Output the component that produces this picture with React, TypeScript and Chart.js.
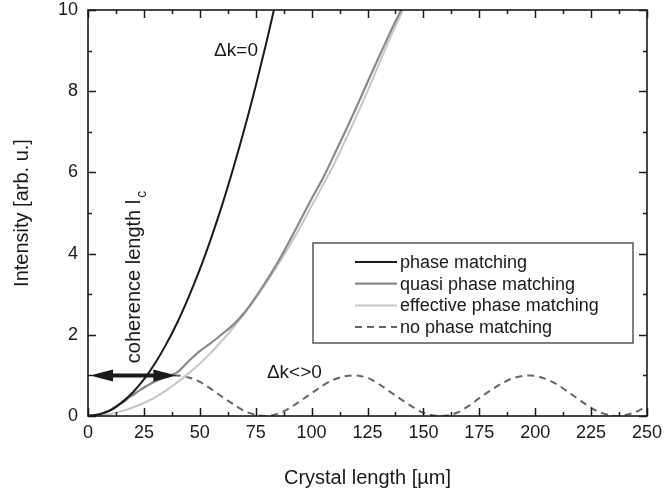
import { useEffect, useRef } from "react";
import { Chart, registerables } from "chart.js";

Chart.register(...registerables);

const FONT = "'Liberation Sans', Arial, Helvetica, sans-serif";
const INK = "#1a1a1a";

// Crystal length [µm] and intensity [arb. u.] for each regime
const phaseX = [0, 5, 10, 15, 20, 25, 30, 35, 40, 45, 50, 55, 60, 65, 70, 75, 80, 85];
const phaseY = [0, 0.04, 0.14, 0.33, 0.58, 0.9, 1.3, 1.77, 2.31, 2.93, 3.61, 4.37, 5.2, 6.11, 7.08, 8.13, 9.25, 10.45];

const quasiX = [0, 5, 10, 15, 20, 25, 30, 35, 40, 45, 50, 55, 60, 65, 70, 75, 80, 85, 90, 95, 100, 105, 110, 115, 120, 125, 130, 135, 140, 145];
const quasiY = [0, 0.04, 0.15, 0.32, 0.52, 0.7, 0.85, 0.96, 1.08, 1.35, 1.6, 1.8, 2.02, 2.25, 2.55, 2.93, 3.35, 3.8, 4.3, 4.82, 5.35, 5.85, 6.42, 7.0, 7.6, 8.22, 8.83, 9.43, 10.0, 10.6];

const effectiveX = [0, 5, 10, 15, 20, 25, 30, 35, 40, 45, 50, 55, 60, 65, 70, 75, 80, 85, 90, 95, 100, 105, 110, 115, 120, 125, 130, 135, 140, 145];
const effectiveY = [0, 0.01, 0.05, 0.12, 0.21, 0.32, 0.46, 0.63, 0.83, 1.05, 1.29, 1.56, 1.86, 2.18, 2.53, 2.9, 3.3, 3.73, 4.18, 4.66, 5.17, 5.68, 6.2, 6.78, 7.38, 8.0, 8.65, 9.3, 9.9, 10.6];

const noMatchX = [0, 5, 10, 15, 20, 25, 30, 35, 39.5, 45, 50, 55, 60, 65, 70, 75, 79, 85, 90, 95, 100, 105, 110, 115, 118.5, 125, 130, 135, 140, 145, 150, 155, 158, 165, 170, 175, 180, 185, 190, 195, 197.5, 205, 210, 215, 220, 225, 230, 237, 245, 250];
const noMatchY = [0, 0.04, 0.15, 0.31, 0.51, 0.7, 0.86, 0.96, 1, 0.95, 0.84, 0.67, 0.47, 0.29, 0.12, 0.03, 0, 0.06, 0.19, 0.37, 0.56, 0.75, 0.9, 0.98, 1, 0.94, 0.79, 0.6, 0.41, 0.23, 0.08, 0.01, 0, 0.08, 0.24, 0.44, 0.63, 0.8, 0.93, 0.99, 1, 0.91, 0.77, 0.58, 0.39, 0.2, 0.07, 0, 0.1, 0.25];

const seriesLabels = ["phase matching", "quasi phase matching", "effective phase matching", "no phase matching"];

// Axis ranges and major tick steps
const xRange = [0, 250];
const xStep = 25;
const yRange = [0, 10];
const yStep = 2;

const xTitle = "Crystal length [\u00b5m]";
const yTitle = "Intensity [arb. u.]";

// Coherence length marker: a double arrow at unit intensity
const coherenceLength = 39.5;
const arrowLevel = 1;
const coherenceText = "coherence length l";
const coherenceSub = "c";
const matchedText = "\u0394k=0";
const mismatchedText = "\u0394k<>0";

const toPoints = (xs: number[], ys: number[]) => xs.map((x, i) => ({ x, y: ys[i] }));

const decorPlugin = {
  id: "decor",
  afterDatasetsDraw(chart: any) {
    const { ctx, chartArea: a, scales } = chart;
    const sx = scales.x;
    const sy = scales.y;
    ctx.save();

    // inward ticks on all four sides
    ctx.strokeStyle = INK;
    ctx.lineWidth = 1.5;
    const isMajor = (v: number, step: number) => Math.abs(v / step - Math.round(v / step)) < 1e-6;
    ctx.beginPath();
    for (let v = xRange[0]; v <= xRange[1] + 1e-9; v += xStep / 2) {
      const px = Math.round(sx.getPixelForValue(v)) + 0.5;
      const len = isMajor(v, xStep) ? 8 : 4;
      ctx.moveTo(px, a.bottom);
      ctx.lineTo(px, a.bottom - len);
      ctx.moveTo(px, a.top);
      ctx.lineTo(px, a.top + len);
    }
    for (let v = yRange[0]; v <= yRange[1] + 1e-9; v += yStep / 2) {
      const py = Math.round(sy.getPixelForValue(v)) + 0.5;
      const len = isMajor(v, yStep) ? 8 : 4;
      ctx.moveTo(a.left, py);
      ctx.lineTo(a.left + len, py);
      ctx.moveTo(a.right, py);
      ctx.lineTo(a.right - len, py);
    }
    ctx.stroke();
    ctx.lineWidth = 1.6;
    ctx.strokeRect(a.left, a.top, a.right - a.left, a.bottom - a.top);

    // legend box
    const lx = 313, ly = 243, lw = 320, lh = 100;
    ctx.fillStyle = "#ffffff";
    ctx.fillRect(lx, ly, lw, lh);
    ctx.strokeStyle = "#555555";
    ctx.lineWidth = 1.5;
    ctx.strokeRect(lx, ly, lw, lh);
    ctx.font = `18px ${FONT}`;
    ctx.textBaseline = "middle";
    ctx.textAlign = "left";
    chart.data.datasets.forEach((ds: any, i: number) => {
      const ry = ly + 19 + i * 21.7;
      ctx.strokeStyle = ds.borderColor;
      ctx.lineWidth = ds.borderWidth;
      ctx.setLineDash(ds.borderDash || []);
      ctx.beginPath();
      ctx.moveTo(355, ry);
      ctx.lineTo(397, ry);
      ctx.stroke();
      ctx.setLineDash([]);
      ctx.fillStyle = INK;
      ctx.fillText(ds.label, 400, ry + 1);
    });

    // coherence length double arrow
    const ay = sy.getPixelForValue(arrowLevel);
    const x0 = sx.getPixelForValue(0) + 2;
    const x1 = sx.getPixelForValue(coherenceLength);
    const head = 23, half = 6;
    ctx.strokeStyle = INK;
    ctx.fillStyle = INK;
    ctx.lineWidth = 4;
    ctx.beginPath();
    ctx.moveTo(x0 + head - 2, ay);
    ctx.lineTo(x1 - head + 2, ay);
    ctx.stroke();
    ctx.beginPath();
    ctx.moveTo(x0, ay);
    ctx.lineTo(x0 + head, ay - half);
    ctx.lineTo(x0 + head, ay + half);
    ctx.closePath();
    ctx.fill();
    ctx.beginPath();
    ctx.moveTo(x1, ay);
    ctx.lineTo(x1 - head, ay - half);
    ctx.lineTo(x1 - head, ay + half);
    ctx.closePath();
    ctx.fill();

    // rotated coherence length label with subscript
    ctx.save();
    ctx.translate(sx.getPixelForValue(23.3), sy.getPixelForValue(1.3));
    ctx.rotate(-Math.PI / 2);
    ctx.font = `20px ${FONT}`;
    ctx.textBaseline = "alphabetic";
    ctx.fillText(coherenceText, 0, 0);
    const w = ctx.measureText(coherenceText).width;
    ctx.font = `14px ${FONT}`;
    ctx.fillText(coherenceSub, w + 2, 6);
    ctx.restore();

    // curve annotations
    ctx.font = `19px ${FONT}`;
    ctx.textBaseline = "middle";
    ctx.fillText(matchedText, sx.getPixelForValue(56.4), sy.getPixelForValue(9.0));
    ctx.fillText(mismatchedText, sx.getPixelForValue(80), sy.getPixelForValue(1.06));

    ctx.restore();
  },
};

export default function App() {
  const canvasRef = useRef<HTMLCanvasElement | null>(null);

  useEffect(() => {
    const canvas = canvasRef.current;
    if (!canvas) return;
    Chart.defaults.font.family = FONT;
    Chart.defaults.color = INK;

    const chart = new Chart(canvas, {
      type: "line",
      data: {
        datasets: [
          {
            label: seriesLabels[0],
            data: toPoints(phaseX, phaseY),
            borderColor: "#1a1a1a",
            borderWidth: 2,
          },
          {
            label: seriesLabels[1],
            data: toPoints(quasiX, quasiY),
            borderColor: "#8a8a8a",
            borderWidth: 2.2,
          },
          {
            label: seriesLabels[2],
            data: toPoints(effectiveX, effectiveY),
            borderColor: "#c6c6c6",
            borderWidth: 2,
          },
          {
            label: seriesLabels[3],
            data: toPoints(noMatchX, noMatchY),
            borderColor: "#666666",
            borderWidth: 2,
            borderDash: [7, 5],
          },
        ],
      },
      options: {
        responsive: false,
        animation: false,
        devicePixelRatio: 1,
        layout: { padding: { top: 10, right: 17, left: 0, bottom: 0 } },
        elements: {
          point: { radius: 0, hoverRadius: 0 },
          line: { cubicInterpolationMode: "monotone", fill: false },
        },
        plugins: {
          legend: { display: false },
          tooltip: { enabled: false },
        },
        scales: {
          x: {
            type: "linear",
            min: xRange[0],
            max: xRange[1],
            grid: { display: false, drawTicks: false },
            border: { display: false },
            ticks: {
              stepSize: xStep,
              autoSkip: false,
              maxRotation: 0,
              padding: 6,
              color: INK,
              font: { size: 18 },
            },
            title: {
              display: true,
              text: xTitle,
              color: INK,
              font: { size: 20 },
              padding: 0,
            },
            afterFit(scale: any) {
              scale.height = 74;
              scale.paddingLeft = 0;
              scale.paddingRight = 0;
            },
          },
          y: {
            type: "linear",
            min: yRange[0],
            max: yRange[1],
            grid: { display: false, drawTicks: false },
            border: { display: false },
            ticks: {
              stepSize: yStep,
              padding: 10,
              color: INK,
              font: { size: 18 },
            },
            title: {
              display: true,
              text: yTitle,
              color: INK,
              font: { size: 20 },
              padding: { top: 10, bottom: 0 },
            },
            afterFit(scale: any) {
              scale.width = 88;
              scale.paddingTop = 0;
              scale.paddingBottom = 0;
            },
          },
        },
      },
      plugins: [decorPlugin],
    });

    return () => chart.destroy();
  }, []);

  return (
    <div style={{ position: "fixed", left: 0, top: 0, width: 664, height: 490, background: "#fff" }}>
      <canvas ref={canvasRef} width={664} height={490} style={{ display: "block" }} />
    </div>
  );
}
